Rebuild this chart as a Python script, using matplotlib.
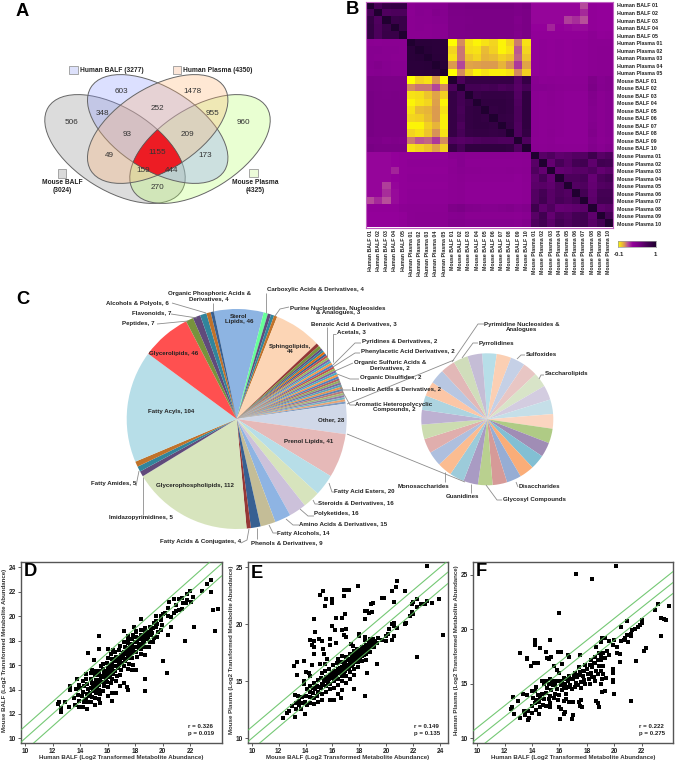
import matplotlib
matplotlib.use("Agg")
import matplotlib.pyplot as plt
import numpy as np
from matplotlib.colors import LinearSegmentedColormap
from matplotlib.patches import Ellipse, Polygon, Rectangle

plt.rcParams["font.family"] = ["Liberation Sans", "DejaVu Sans"]

W, H = 675, 764

# ---- panel A
venn_counts = ["603", "1478", "506", "348", "252", "955", "960", "93", "209",
               "49", "1155", "173", "159", "444", "270"]
venn_pos = [(365, 275), (579, 275), (215, 368), (308, 340), (472, 324), (636, 340),
            (729, 368), (382, 402), (562, 402), (328, 467), (472, 456), (617, 467),
            (429, 513), (516, 513), (472, 563)]

# ---- panel B
sample_names = ["Human BALF %02d" % i for i in range(1, 6)] + \
               ["Human Plasma %02d" % i for i in range(1, 6)] + \
               ["Mouse BALF %02d" % i for i in range(1, 11)] + \
               ["Mouse Plasma %02d" % i for i in range(1, 11)]

hb_hb = [[1.0, .74, .85, .86, .86], [.74, 1.0, .70, .72, .72], [.85, .70, 1.0, .82, .84],
         [.86, .72, .82, 1.0, .84], [.86, .72, .84, .84, 1.0]]
hp_hp = [[1.0, .93, .93, .92, .92], [.93, 1.0, .94, .92, .92], [.93, .94, 1.0, .93, .93],
         [.92, .92, .93, 1.0, .94], [.92, .92, .93, .94, 1.0]]
mb_mb = [[1.0, .72, .85, .85, .85, .85, .85, .85, .68, .85],
         [.72, 1.0, .76, .76, .74, .76, .72, .74, .66, .74],
         [.85, .76, 1.0, .84, .86, .86, .86, .85, .68, .88],
         [.85, .76, .84, 1.0, .88, .88, .88, .86, .70, .88],
         [.85, .74, .86, .88, 1.0, .86, .88, .86, .72, .88],
         [.85, .76, .86, .88, .86, 1.0, .86, .85, .72, .88],
         [.85, .72, .86, .88, .88, .86, 1.0, .86, .70, .88],
         [.85, .74, .85, .86, .86, .85, .86, 1.0, .70, .86],
         [.68, .66, .68, .70, .72, .72, .70, .70, 1.0, .70],
         [.85, .74, .88, .88, .88, .88, .88, .86, .70, 1.0]]
mp_mp = [[1.0, .66, .70, .62, .64, .68, .68, .80, .66, .70],
         [.66, 1.0, .60, .74, .66, .76, .78, .62, .78, .76],
         [.70, .60, 1.0, .60, .62, .66, .66, .70, .60, .64],
         [.62, .74, .60, 1.0, .72, .72, .74, .58, .72, .76],
         [.64, .66, .62, .72, 1.0, .68, .70, .60, .68, .70],
         [.68, .76, .66, .72, .68, 1.0, .76, .62, .76, .76],
         [.68, .78, .66, .74, .70, .76, 1.0, .64, .78, .78],
         [.80, .62, .70, .58, .60, .62, .64, 1.0, .62, .66],
         [.66, .78, .60, .72, .68, .76, .78, .62, 1.0, .76],
         [.70, .76, .64, .76, .70, .76, .78, .66, .76, 1.0]]
hb_hp = [[.38, .40, .40, .41, .40], [.37, .40, .39, .43, .41], [.38, .39, .39, .40, .40],
         [.38, .39, .38, .39, .39], [.38, .38, .38, .39, .39]]
hb_mb = [[.48, .48, .50, .50, .50, .50, .50, .50, .46, .50],
         [.47, .47, .48, .48, .48, .48, .48, .48, .46, .48],
         [.46, .46, .47, .48, .48, .48, .48, .48, .44, .48],
         [.46, .46, .48, .48, .48, .48, .48, .48, .45, .48],
         [.46, .46, .47, .48, .48, .48, .48, .48, .44, .48]]
hb_mp = [[.31, .31, .31, .31, .31, .31, .19, .33, .32, .32],
         [.31, .31, .31, .31, .31, .31, .25, .33, .32, .32],
         [.31, .31, .31, .31, .21, .24, .18, .33, .32, .32],
         [.32, .32, .26, .32, .31, .30, .30, .33, .32, .32],
         [.33, .33, .33, .33, .33, .33, .33, .36, .33, .34]]
hp_mb = [[-.10, .10, -.05, -.08, -.05, -.03, -.08, -.03, .12, -.05],
         [-.03, .13, -.04, -.05, .02, -.02, -.08, -.05, .17, -.03],
         [-.05, .13, .00, -.03, .03, .02, -.02, .00, .15, .00],
         [.08, .20, .06, .07, .08, .08, .03, .09, .22, .06],
         [-.10, .10, -.02, -.08, -.05, -.07, -.07, -.05, .10, -.02]]
hp_mp = [[.33, .35, .34, .35, .34, .35, .35, .37, .37, .37],
         [.33, .35, .34, .35, .34, .35, .35, .37, .38, .38],
         [.33, .35, .34, .35, .34, .35, .35, .37, .38, .38],
         [.33, .35, .34, .35, .34, .35, .35, .37, .38, .38],
         [.33, .35, .34, .35, .34, .35, .35, .37, .38, .38]]
mb_mp = [[.39, .36, .37, .36, .36, .36, .36, .45, .40, .42],
         [.40, .40, .39, .38, .37, .37, .37, .47, .41, .42],
         [.38, .36, .38, .36, .35, .35, .35, .43, .38, .40],
         [.38, .36, .38, .36, .35, .35, .35, .42, .38, .40],
         [.38, .36, .37, .36, .35, .35, .35, .41, .38, .40],
         [.38, .36, .37, .36, .35, .35, .35, .41, .38, .40],
         [.38, .36, .37, .36, .35, .35, .35, .42, .38, .40],
         [.38, .36, .38, .36, .35, .35, .35, .44, .38, .40],
         [.37, .36, .37, .35, .35, .35, .35, .41, .37, .39],
         [.38, .37, .38, .37, .36, .36, .36, .43, .39, .42]]

# ---- panel C
main_labels_inside = [("Sterol\nLipids, 46", 239, 319), ("Sphingolipids,\n44", 290, 349),
                      ("Glycerolipids, 46", 174, 353), ("Fatty Acyls, 104", 171, 411),
                      ("Glycerophospholipids, 112", 195, 485), ("Other, 28", 331, 420),
                      ("Prenol Lipids, 41", 309, 441)]
main_counts = [46, 4, 3, 3, 3, 44, 3, 3] + [2] * 28 + \
              [28, 41, 20, 16, 16, 15, 14, 9, 4, 112, 5, 5, 5, 104, 46, 7, 7, 6, 4, 3]
main_colors = ["#8DB4E2", "#66FF99", "#604A7B", "#31859C", "#C0722A", "#FCD5B5",
               "#953735", "#77933C", "#604A7B", "#31859C", "#E46C0A", "#376092",
               "#C0504D", "#9BBB59", "#8064A2", "#4BACC6", "#F79646", "#4F81BD",
               "#C0504D", "#9BBB59", "#8064A2", "#4BACC6", "#F79646", "#4F81BD",
               "#B65F5D", "#93AF5F", "#7F689B", "#58A6BC", "#E8934F", "#5A83B5",
               "#BC7A78", "#A0B878", "#8F7DA8", "#74B3C4", "#E9A473", "#7E9CC2",
               "#D0D8E8", "#E6B9B8", "#B7DEE8", "#D7E4BD", "#CCC1DA", "#8EB4E3",
               "#C4BD97", "#376092", "#953735", "#D7E4BD", "#604A7B", "#31859C",
               "#C0722A", "#B7DEE8", "#FF5050", "#77933C", "#604A7B", "#31859C",
               "#C0722A", "#376092"]
other_counts = [1] * 28
other_colors = ["#B7DEE8", "#FBCFB3", "#C5D0E6", "#E8C6C4", "#D8E4C8", "#D3CCE0",
                "#C5DFE8", "#FBD5C0", "#AFCB85", "#A08DB5", "#82BFD3", "#FAAD78",
                "#96ADD4", "#D69A98", "#B9D08F", "#A99BC3", "#9CCBDA", "#FBBC90",
                "#AEBFDE", "#E0AEAD", "#CCDCB0", "#BDB1D2", "#ADD4E0", "#FCC6A6",
                "#B8C7E2", "#E2B8B7", "#D0DDBB", "#C5BDD6"]

# text, x, y, horizontal anchor
pie_labels = [
    ("Organic Phosphoric Acids &\nDerivatives, 4", 209, 296, "center"),
    ("Alcohols & Polyols, 6", 169, 303, "right"),
    ("Flavonoids, 7", 171, 313, "right"),
    ("Peptides, 7", 155, 323, "right"),
    ("Fatty Amides, 5", 136, 483, "right"),
    ("Imidazopyrimidines, 5", 141, 517, "center"),
    ("Fatty Acids & Conjugates, 4", 241, 541, "right"),
    ("Phenols & Derivatives, 9", 251, 543, "left"),
    ("Fatty Alcohols, 14", 277, 533, "left"),
    ("Amino Acids & Derivatives, 15", 299, 524, "left"),
    ("Polyketides, 16", 314, 514, "left"),
    ("Steroids & Derivatives, 16", 318, 503, "left"),
    ("Fatty Acid Esters, 20", 334, 491, "left"),
    ("Carboxylic Acids & Derivatives, 4", 267, 290, "left"),
    ("Purine Nucleotides, Nucleosides\n& Analogues, 3", 338, 310, "center"),
    ("Benzoic Acid & Derivatives, 3", 311, 324, "left"),
    ("Acetals, 3", 337, 332, "left"),
    ("Pyridines & Derivatives, 2", 362, 342, "left"),
    ("Phenylacetic Acid Derivatives, 2", 361, 352, "left"),
    ("Organic Sulfuric Acids &\nDerivatives, 2", 390, 365, "center"),
    ("Organic Disulfides, 2", 360, 378, "left"),
    ("Linoelic Acids & Derivatives, 2", 352, 389, "left"),
    ("Aromatic Heteropolycyclic\nCompounds, 2", 394, 407, "center"),
    ("Pyrimidine Nucleosides &\nAnalogues", 522, 327, "center"),
    ("Pyrrolidines", 479, 343, "left"),
    ("Sulfoxides", 526, 354, "left"),
    ("Saccharolipids", 545, 373, "left"),
    ("Monosaccharides", 398, 487, "left"),
    ("Guanidines", 446, 497, "left"),
    ("Disaccharides", 519, 486, "left"),
    ("Glycosyl Compounds", 503, 499, "left"),
]

leaders = [
    [(172, 303), (206, 313)], [(213, 303), (213, 312)], [(171, 314), (197, 318)],
    [(157, 324), (188, 321)], [(266, 293), (266, 313)],
    [(289, 307), (280, 309), (275, 316)], [(327, 327), (327, 357)],
    [(336, 334), (333, 334), (333, 362)], [(361, 343), (355, 343), (333, 365)],
    [(360, 353), (355, 353), (333, 367)], [(353, 363), (335, 371)],
    [(359, 379), (350, 379), (337, 374)], [(351, 390), (343, 390), (338, 380)],
    [(355, 405), (350, 405), (340, 387)],
    [(136, 486), (139, 471)], [(143, 515), (143, 477)],
    [(241, 543), (247, 540), (249, 529)], [(257, 539), (257, 528)],
    [(269, 525), (273, 533), (277, 533)], [(286, 519), (293, 525), (299, 525)],
    [(300, 509), (308, 516), (314, 516)], [(313, 500), (315, 504), (318, 504)],
    [(329, 483), (332, 492), (334, 492)],
    [(347, 404), (454, 360)], [(347, 434), (465, 482)],
    [(484, 324), (478, 324), (452, 362)], [(478, 343), (473, 343), (462, 358)],
    [(525, 355), (521, 355), (517, 359)], [(544, 375), (541, 375), (539, 379)],
    [(445, 482), (445, 472)], [(471, 493), (471, 484)],
    [(518, 487), (516, 482)], [(502, 500), (497, 500), (486, 485)],
]

# ---- panels D, E, F
d_points = [
    (23.5, 23.0), (23.2, 22.6), (23.5, 22.0), (22.9, 22.1), (22.0, 22.1), (21.8, 21.8), (22.2, 21.6),
    (21.4, 21.5), (21.2, 21.4), (21.8, 21.3), (22.1, 21.2), (21.5, 21.1), (21.7, 21.1), (20.8, 21.4),
    (20.5, 21.15), (20.4, 20.7), (21.0, 20.9), (21.4, 20.6), (21.2, 20.5), (21.0, 20.4), (20.8, 20.3),
    (20.4, 20.0), (20.2, 20.3), (20.0, 20.2), (19.5, 20.0), (20.6, 19.95), (19.5, 19.6), (18.4, 19.75),
    (23.7, 20.5), (24.0, 20.55), (23.8, 18.75), (22.3, 19.15), (21.6, 18.0), (20.6, 19.1), (20.4, 18.5),
    (20.0, 16.3), (20.3, 15.35), (18.7, 14.85), (18.7, 13.85), (15.4, 18.35), (14.6, 16.95), (15.0, 16.45),
    (15.4, 17.3), (16.0, 17.3), (16.4, 17.25), (17.2, 18.8), (17.9, 19.1), (18.1, 18.8), (17.5, 18.4),
    (13.8, 14.9), (12.6, 12.15), (12.5, 13.0), (12.4, 12.85), (12.9, 13.0), (12.6, 12.5), (13.2, 12.6),
    (13.3, 14.3), (13.3, 14.0), (13.6, 12.7), (13.55, 13.3), (13.7, 14.05), (13.9, 12.55), (13.95, 13.05),
    (13.85, 13.55), (14.0, 14.15), (13.95, 14.4), (14.2, 12.6), (14.25, 13.0), (14.15, 13.45), (14.2, 13.8),
    (14.3, 14.3), (14.2, 14.7), (14.5, 12.4), (14.55, 12.95), (14.45, 13.25), (14.5, 13.6), (14.6, 14.05),
    (14.5, 14.45), (14.45, 14.85), (14.4, 15.25), (14.8, 13.0), (14.85, 13.4), (14.75, 13.75), (14.8, 14.15),
    (14.9, 14.5), (14.8, 14.9), (14.8, 15.35), (14.9, 15.6), (15.1, 12.7), (15.05, 13.3), (15.15, 13.7),
    (15.1, 14.05), (15.05, 14.45), (15.15, 14.8), (15.1, 15.2), (15.1, 15.55), (15.45, 12.9), (15.4, 13.25),
    (15.45, 13.6), (15.35, 14.0), (15.4, 14.4), (15.45, 14.8), (15.35, 15.15), (15.4, 15.5), (15.5, 15.9),
    (15.7, 13.9), (15.75, 14.25), (15.65, 14.6), (15.7, 15.0), (15.75, 15.35), (15.7, 15.7), (15.65, 16.1),
    (16.0, 13.45), (16.05, 14.2), (15.95, 14.65), (16.0, 15.0), (16.1, 15.4), (16.0, 15.8), (15.95, 16.2),
    (16.05, 16.55), (16.3, 13.1), (16.35, 13.7), (16.25, 14.5), (16.3, 14.9), (16.4, 15.3), (16.3, 15.7),
    (16.3, 16.1), (16.35, 16.5), (16.25, 16.9), (16.6, 13.7), (16.6, 14.7), (16.65, 15.1), (16.55, 15.5),
    (16.6, 15.9), (16.65, 16.3), (16.6, 16.7), (16.55, 17.05), (16.9, 14.3), (16.9, 15.2), (16.95, 15.6),
    (16.85, 16.0), (16.9, 16.4), (16.95, 16.8), (16.85, 17.2), (16.9, 17.6), (17.2, 14.5), (17.4, 14.2),
    (17.5, 13.95), (17.2, 15.9), (17.25, 16.3), (17.15, 16.7), (17.2, 17.1), (17.25, 17.5), (17.2, 17.9),
    (17.5, 15.7), (17.55, 16.1), (17.45, 16.6), (17.5, 17.0), (17.55, 17.4), (17.5, 17.8), (17.45, 18.15),
    (17.8, 15.6), (17.85, 16.0), (17.75, 16.6), (17.8, 16.95), (17.85, 17.3), (17.8, 17.7), (17.75, 18.1),
    (17.85, 18.5), (18.1, 15.6), (18.15, 16.7), (18.05, 17.1), (18.1, 17.5), (18.15, 17.9), (18.1, 18.3),
    (18.05, 18.7), (18.4, 16.9), (18.45, 17.3), (18.35, 17.7), (18.4, 18.1), (18.45, 18.5), (18.4, 18.9),
    (18.7, 16.8), (18.75, 17.5), (18.65, 17.9), (18.7, 18.3), (18.75, 18.7), (18.7, 19.0), (19.0, 17.5),
    (19.05, 17.9), (18.95, 18.3), (19.0, 18.7), (19.05, 19.1), (19.3, 17.9), (19.35, 18.2), (19.25, 18.6),
    (19.3, 19.0), (19.35, 19.45), (19.6, 18.3), (19.65, 18.7), (19.55, 19.1), (19.6, 19.4), (19.9, 18.9),
    (19.95, 19.3), (19.85, 19.7), (19.9, 20.05),
    (14.35, 13.1), (14.65, 13.45), (14.95, 13.85), (14.95, 14.25), (15.25, 14.2), (15.25, 14.65), (15.55, 14.6),
    (15.55, 15.1), (15.85, 14.85), (15.85, 15.2), (15.85, 15.55), (16.15, 15.2), (16.15, 15.6), (16.2, 16.0),
    (16.45, 15.5), (16.45, 15.95), (16.5, 16.35), (16.75, 15.8), (16.8, 16.2), (16.75, 16.6), (17.05, 16.2),
    (17.05, 16.6), (17.1, 17.0), (17.35, 16.5), (17.35, 16.9), (17.4, 17.3), (17.65, 16.8), (17.7, 17.2),
    (17.65, 17.55), (17.95, 17.1), (17.95, 17.5), (18.0, 17.9), (18.25, 17.4), (18.25, 17.75), (18.3, 18.2),
    (18.55, 17.6), (18.55, 18.0), (18.6, 18.4), (18.85, 18.1), (18.85, 18.5), (19.15, 18.45), (19.15, 18.85),
]

e_points = [
    (23.0, 25.1), (20.8, 23.8), (20.7, 23.3), (20.4, 22.9), (21.4, 22.9), (17.9, 23.4), (17.0, 23.0),
    (16.85, 23.05), (17.2, 23.0), (16.85, 22.5), (15.3, 22.95), (15.1, 22.6), (15.5, 22.25), (16.0, 22.25),
    (16.0, 21.85), (15.45, 21.6), (19.7, 22.3), (19.85, 22.35), (20.6, 22.0), (22.0, 22.0), (22.3, 22.2),
    (21.9, 21.8), (22.6, 21.8), (22.9, 21.8), (23.0, 22.05), (23.4, 21.85), (23.9, 22.2), (22.3, 21.5),
    (24.2, 19.05), (22.3, 17.15), (18.4, 13.7), (19.3, 16.5), (18.6, 15.7), (17.6, 14.35), (18.9, 21.8),
    (19.05, 21.9), (18.6, 21.2), (18.7, 21.0), (18.4, 21.2), (18.95, 21.1), (18.4, 20.5), (16.95, 20.9),
    (16.7, 20.6), (16.3, 20.6), (14.6, 20.5), (15.95, 19.85), (16.2, 19.5), (16.7, 19.5), (17.0, 19.6),
    (16.85, 19.1), (17.0, 18.9), (14.7, 19.3), (15.85, 18.7), (14.35, 18.6), (14.6, 18.5), (15.0, 18.75),
    (15.2, 18.5), (14.45, 18.2), (14.6, 18.0), (15.3, 17.85), (15.85, 18.2), (16.3, 18.4), (17.95, 19.2),
    (17.95, 18.95), (18.4, 18.9), (14.6, 17.4), (15.4, 17.4), (15.6, 17.0), (13.15, 16.35), (13.35, 16.7),
    (13.9, 16.75), (14.45, 16.45), (15.1, 16.5), (15.45, 16.5), (13.4, 15.6), (13.9, 14.8), (13.85, 15.0),
    (14.0, 15.8), (14.25, 15.7), (14.35, 15.5), (13.45, 13.7), (13.2, 13.8), (12.35, 11.8), (12.6, 12.2),
    (12.8, 12.4), (13.2, 11.9), (13.95, 12.15), (13.0, 12.8), (21.4, 20.05), (21.8, 20.7), (22.0, 20.9),
    (21.95, 21.1), (21.5, 20.1), (20.6, 20.1), (20.4, 20.0), (20.2, 19.6), (20.6, 19.9), (20.8, 19.7),
    (20.0, 18.5), (20.4, 18.6), (20.6, 19.0), (17.4, 18.25), (17.5, 18.1), (19.95, 19.0), (20.1, 19.2),
    (13.3, 12.6), (13.3, 13.1), (13.55, 12.9), (13.5, 13.3), (13.7, 12.6), (13.8, 13.1), (13.75, 13.6),
    (13.95, 13.2), (14.0, 13.7), (14.1, 14.3), (14.1, 12.9), (14.35, 13.1), (14.3, 13.6), (14.3, 14.1),
    (14.3, 14.6), (14.6, 13.0), (14.6, 13.5), (14.55, 14.0), (14.55, 14.4), (14.6, 14.9), (14.9, 13.2),
    (14.85, 13.7), (14.9, 14.1), (14.85, 14.6), (14.9, 15.1), (15.2, 13.4), (15.2, 13.9), (15.15, 14.4),
    (15.2, 14.8), (15.15, 15.3), (15.2, 15.7), (15.5, 14.1), (15.5, 14.6), (15.45, 15.0), (15.5, 15.4),
    (15.45, 15.9), (15.8, 13.4), (15.8, 14.3), (15.8, 14.8), (15.75, 15.2), (15.8, 15.6), (15.75, 16.1),
    (16.1, 13.35), (16.1, 14.4), (16.1, 15.0), (16.05, 15.5), (16.1, 15.9), (16.05, 16.4), (16.4, 13.9),
    (16.4, 14.7), (16.4, 15.2), (16.35, 15.7), (16.4, 16.1), (16.35, 16.6), (16.4, 17.0), (16.65, 13.5),
    (16.7, 14.2), (16.7, 15.0), (16.7, 15.5), (16.65, 15.9), (16.7, 16.3), (16.65, 16.7), (16.7, 17.2),
    (17.0, 14.9), (17.0, 15.5), (16.95, 15.9), (17.0, 16.3), (16.95, 16.7), (17.0, 17.1), (17.3, 15.2),
    (17.3, 15.8), (17.25, 16.2), (17.3, 16.6), (17.25, 17.0), (17.3, 17.4), (17.6, 15.6), (17.6, 16.1),
    (17.55, 16.5), (17.6, 16.9), (17.55, 17.3), (17.6, 17.7), (17.9, 16.3), (17.9, 16.7), (17.85, 17.1),
    (17.9, 17.5), (17.85, 17.85), (18.2, 16.8), (18.2, 17.2), (18.15, 17.6), (18.2, 18.0), (18.5, 16.9),
    (18.5, 17.4), (18.45, 17.8), (18.5, 18.2), (18.45, 18.6), (18.8, 17.6), (18.8, 18.0), (18.75, 18.4),
    (18.8, 18.7), (19.1, 18.0), (19.1, 18.3), (19.05, 18.7), (19.35, 18.4), (19.4, 18.8), (19.7, 18.6),
    (14.7, 14.3), (15.0, 14.5), (15.3, 14.7), (15.35, 15.1), (15.65, 14.9), (15.65, 15.3), (15.95, 15.3),
    (15.95, 15.7), (16.25, 15.4), (16.25, 15.85), (16.55, 15.7), (16.55, 16.15), (16.85, 15.75), (16.85, 16.15),
    (16.85, 16.55), (17.15, 16.1), (17.15, 16.45), (17.15, 16.85), (17.45, 16.35), (17.45, 16.75), (17.45, 17.15),
    (17.75, 16.7), (17.75, 17.05), (17.75, 17.45), (18.05, 17.05), (18.05, 17.4), (18.05, 17.75), (18.35, 17.35),
    (18.35, 17.65), (18.35, 18.0), (18.65, 17.7), (18.65, 18.05), (18.95, 18.15), (18.95, 18.5), (19.2, 18.5),
]

f_points = [
    (20.1, 25.8), (17.2, 25.05), (18.4, 24.65), (16.0, 21.5), (23.2, 22.3), (24.0, 22.15), (23.0, 21.8),
    (23.4, 21.05), (23.6, 20.95), (23.8, 20.85), (20.9, 20.8), (20.5, 20.25), (22.0, 20.85), (22.0, 20.6),
    (21.9, 20.4), (21.7, 20.2), (21.5, 20.0), (21.3, 19.9), (21.2, 19.6), (21.2, 19.35), (20.9, 19.5),
    (20.8, 19.2), (20.7, 19.0), (21.0, 18.8), (20.5, 18.9), (22.3, 18.3), (22.2, 18.0), (23.4, 19.4),
    (21.6, 17.05), (21.2, 13.4), (20.0, 14.1), (19.3, 14.35), (19.1, 14.25), (18.7, 13.4), (18.8, 13.2),
    (18.9, 12.9), (19.0, 15.0), (19.9, 15.2), (19.9, 15.35), (19.9, 16.0), (19.9, 16.4), (17.0, 12.1),
    (16.95, 11.8), (16.05, 11.8), (16.3, 12.2), (16.4, 12.4), (16.1, 12.7), (16.7, 13.3), (17.0, 13.3),
    (17.4, 13.3), (17.6, 13.5), (17.5, 13.0), (17.65, 12.9), (14.2, 19.05), (14.2, 18.8), (14.2, 18.6),
    (15.3, 19.05), (14.6, 18.25), (15.9, 17.95), (16.1, 17.95), (15.0, 17.9), (13.1, 17.85), (13.6, 17.35),
    (13.65, 17.3), (14.15, 16.95), (14.4, 16.9), (13.95, 16.65), (15.1, 17.4), (15.4, 17.5), (15.2, 17.3),
    (16.7, 17.5), (16.65, 17.65), (17.5, 17.6), (15.6, 16.6), (16.2, 16.8), (13.3, 14.1), (13.6, 14.0),
    (12.6, 13.75), (12.95, 13.4), (12.5, 12.9), (12.45, 12.7), (12.7, 12.2), (13.1, 11.9), (13.5, 12.1),
    (13.7, 12.55), (13.4, 12.5), (13.7, 11.7), (13.8, 11.9), (14.0, 12.3), (14.2, 13.2), (14.0, 14.3),
    (14.2, 14.3), (14.3, 14.7), (15.0, 15.3), (15.3, 15.4), (15.8, 16.3), (16.0, 16.0), (19.1, 19.2),
    (19.3, 19.2), (19.6, 18.9), (19.0, 18.8), (18.7, 18.4), (20.0, 19.0), (19.9, 18.6), (20.2, 18.4),
    (20.2, 17.8), (20.4, 17.7), (20.4, 17.0), (18.3, 17.2), (19.5, 18.0), (19.2, 17.8), (19.6, 17.6),
    (19.3, 17.4), (18.9, 17.8), (19.0, 17.2), (18.6, 17.5), (18.6, 16.9), (18.9, 16.6), (19.2, 16.6),
    (19.0, 16.2), (18.7, 16.2), (18.4, 16.5), (18.3, 16.0), (18.4, 15.6), (18.8, 15.9), (19.2, 15.9),
    (19.1, 15.4), (17.9, 16.7), (17.8, 16.2), (17.7, 15.7), (18.1, 15.9), (17.5, 16.1), (17.4, 16.5),
    (17.1, 16.0), (17.3, 15.6), (17.0, 15.4), (17.6, 15.2), (17.2, 15.1), (17.6, 14.6), (17.1, 14.7),
    (16.7, 15.7), (16.6, 15.3), (16.8, 14.9), (16.9, 14.5), (16.5, 14.6), (16.4, 15.0), (16.3, 15.5),
    (16.0, 15.3), (16.1, 14.9), (16.2, 14.4), (16.5, 14.1), (16.0, 14.0), (15.7, 14.9), (15.8, 14.5),
    (15.6, 15.3), (15.5, 14.9), (15.4, 14.4), (15.7, 14.1), (15.6, 13.7), (15.9, 13.5), (15.3, 13.9),
    (15.1, 14.6), (15.0, 14.2), (15.2, 13.6), (15.3, 13.2), (15.0, 13.0), (14.9, 13.6), (14.7, 14.1),
    (14.6, 13.7), (14.5, 13.3), (14.8, 13.1), (14.6, 12.9), (14.4, 14.0), (14.3, 13.5), (14.1, 13.7),
    (14.3, 12.6), (14.0, 13.0), (14.5, 12.2), (15.3, 12.9), (14.9, 15.0), (14.7, 15.3), (16.5, 13.6),
    (17.9, 15.0), (18.2, 15.0), (18.6, 15.3), (19.4, 15.5), (16.3, 13.4), (16.0, 12.9),
    (15.2, 14.95), (15.45, 15.05), (15.8, 15.25), (16.2, 15.25), (16.45, 15.45), (16.75, 15.4), (17.05, 15.7),
    (17.4, 15.85), (17.7, 16.15), (18.0, 16.35), (18.2, 16.7), (18.5, 16.95), (18.8, 17.2), (19.05, 17.55),
    (16.3, 14.7), (16.65, 14.7), (17.35, 14.85), (17.8, 15.35), (18.15, 15.45), (18.55, 15.65),
]

tick_d = {"x": range(10, 23, 2), "y": range(10, 25, 2)}
tick_e = {"x": range(10, 25, 2), "y": range(10, 26, 5)}
tick_f = {"x": range(10, 23, 2), "y": range(10, 26, 5)}

fig = plt.figure(figsize=(W / 100, H / 100), dpi=100)


def px_axes(x0, y0, x1, y1):
    return fig.add_axes([x0 / W, 1 - y1 / H, (x1 - x0) / W, (y1 - y0) / H])


def draw_pie(cx, cy, r, counts, colors, start):
    ax = px_axes(cx - r, cy - r, cx + r, cy + r)
    ax.pie(counts, colors=colors, startangle=start, counterclock=False, radius=1,
           wedgeprops={"linewidth": 0})
    ax.set_xlim(-1, 1)
    ax.set_ylim(-1, 1)
    ax.axis("off")


def draw_scatter(box, points, lims, ticks, xlabel, ylabel, r, p, letter, letter_pos):
    ax = px_axes(*box)
    pts = np.array(points)
    xs = np.array(lims[:2])
    for off in (-1, 0, 1):
        ax.plot(xs, xs + off, color="#5cbf5c", lw=0.8, alpha=0.85, zorder=3)
    ax.scatter(pts[:, 0], pts[:, 1], marker="s", s=11.5, color="black", linewidths=0, zorder=2)
    ax.set_xlim(lims[0], lims[1])
    ax.set_ylim(lims[2], lims[3])
    ax.set_xticks(list(ticks["x"]))
    ax.set_yticks(list(ticks["y"]))
    ax.tick_params(length=2, width=0.6, labelsize=4.7, pad=1.5, color="#444444")
    for lab in ax.get_xticklabels() + ax.get_yticklabels():
        lab.set_fontweight("bold")
        lab.set_color("#222222")
    for s in ax.spines.values():
        s.set_linewidth(1.0)
        s.set_color("#555555")
    page.text(box[0] + 100, 758, xlabel, ha="center", va="center", fontsize=4.4,
              fontweight="bold", color="#333333")
    page.text(box[0] - 16, 650, ylabel, ha="center", va="center", rotation=90, fontsize=4.4,
              fontweight="bold", color="#333333")
    page.text(box[2] - 34, 730, "r = %s\np = %s" % (r, p), ha="left", va="center",
              fontsize=4.4, fontweight="bold", color="#222222", linespacing=1.25)
    page.text(letter_pos[0], letter_pos[1], letter, ha="left", va="center", fontsize=13.2,
              fontweight="bold", color="black", zorder=5)


# whole page overlay in picture pixels, for text and leader lines
page = fig.add_axes([0, 0, 1, 1], zorder=10)
page.set_xlim(0, W)
page.set_ylim(H, 0)
page.axis("off")
page.patch.set_alpha(0)

# panel A
venn_shapes = [((115, 149), -32, (0.55, 0.55, 0.55)), ((200, 149), 32, (0.72, 1.0, 0.42)),
               ((157.7, 129), -32, (0.55, 0.6, 1.0)), ((157.7, 129), 32, (1.0, 0.7, 0.45))]
A_AX, B_AX = 78.7, 41.2
for centre, angle, col in venn_shapes:
    # y runs downward on the page, so the sign of the angle follows the picture
    page.add_patch(Ellipse(centre, 2 * A_AX, 2 * B_AX, angle=-angle, facecolor=col + (0.3,),
                           edgecolor="#666666", lw=0.7))

# red centre: the part that lies inside all four ellipses
angles = np.linspace(0, 2 * np.pi, 361)
cx0, cy0 = 157.7, 152.0
radii = []
for t in angles:
    best = 1e9
    for centre, angle, col in venn_shapes:
        a = np.deg2rad(-angle)
        dx, dy = np.cos(t), np.sin(t)
        ux = (dx * np.cos(a) + dy * np.sin(a)) / A_AX
        uy = (-dx * np.sin(a) + dy * np.cos(a)) / B_AX
        ox = ((cx0 - centre[0]) * np.cos(a) + (cy0 - centre[1]) * np.sin(a)) / A_AX
        oy = (-(cx0 - centre[0]) * np.sin(a) + (cy0 - centre[1]) * np.cos(a)) / B_AX
        qa, qb, qc = ux ** 2 + uy ** 2, 2 * (ox * ux + oy * uy), ox ** 2 + oy ** 2 - 1
        best = min(best, (-qb + np.sqrt(qb ** 2 - 4 * qa * qc)) / (2 * qa))
    radii.append(best)
radii = np.array(radii)
page.add_patch(Polygon(np.c_[cx0 + radii * np.cos(angles), cy0 + radii * np.sin(angles)],
                       facecolor="#ED1C24", edgecolor="#555555", lw=0.5))

for txt, (zx, zy) in zip(venn_counts, venn_pos):
    page.text(zx / 3, zy / 3, txt, ha="center", va="center", fontsize=5.9, color="#333333")

for x, y, col in [(69, 65.7, "#DDE1FB"), (172.7, 65.7, "#FDE6D8"), (57.5, 169, "#DADADA"), (249, 168.5, "#ECFBD8")]:
    page.add_patch(Rectangle((x, y), 8.5, 8.5, facecolor=col, edgecolor="#999999", lw=0.6))
page.text(79.5, 70, "Human BALF (3277)", ha="left", va="center", fontsize=4.75, fontweight="bold", color="#222222")
page.text(182.7, 70, "Human Plasma (4350)", ha="left", va="center", fontsize=4.75, fontweight="bold", color="#222222")
page.text(62.5, 186, "Mouse BALF\n(3024)", ha="center", va="center", fontsize=4.75, fontweight="bold", color="#222222")
page.text(255, 186.5, "Mouse Plasma\n(4325)", ha="center", va="center", fontsize=4.75, fontweight="bold", color="#222222")
page.text(16, 12, "A", ha="left", va="center", fontsize=13.2, fontweight="bold")

# panel B
matrix = np.block([[np.array(hb_hb), np.array(hb_hp), np.array(hb_mb), np.array(hb_mp)],
                   [np.array(hb_hp).T, np.array(hp_hp), np.array(hp_mb), np.array(hp_mp)],
                   [np.array(hb_mb).T, np.array(hp_mb).T, np.array(mb_mb), np.array(mb_mp)],
                   [np.array(hb_mp).T, np.array(hp_mp).T, np.array(mb_mp).T, np.array(mp_mp)]])
stops = [(-0.10, "#FFFF00"), (-0.02, "#F2CF24"), (0.08, "#DC9A50"), (0.18, "#B8509A"),
         (0.32, "#93009A"), (0.50, "#780084"), (0.75, "#460056"), (1.0, "#200030")]
heat_cmap = LinearSegmentedColormap.from_list("heat", [((v + 0.1) / 1.1, c) for v, c in stops])
ax_b = px_axes(366, 1.7, 612.7, 227.5)
ax_b.imshow(matrix, cmap=heat_cmap, vmin=-0.1, vmax=1, aspect="auto", interpolation="nearest")
ax_b.yaxis.tick_right()
ax_b.set_yticks(range(30))
ax_b.set_yticklabels(sample_names, fontsize=3.8, fontweight="bold", color="#222222")
ax_b.set_xticks(range(30))
ax_b.set_xticklabels(sample_names, fontsize=3.8, fontweight="bold", color="#222222", rotation=90)
ax_b.tick_params(axis="y", length=0, pad=3)
ax_b.tick_params(axis="x", length=0, pad=2)
for s in ax_b.spines.values():
    s.set_color("#C060C0")
    s.set_linewidth(0.8)

ax_cb = px_axes(618, 240.7, 656, 247)
ax_cb.imshow(np.linspace(-0.1, 1, 200)[None, :], cmap=heat_cmap, aspect="auto")
ax_cb.set_xticks([])
ax_cb.set_yticks([])
for s in ax_cb.spines.values():
    s.set_linewidth(0.5)
    s.set_color("#999999")
page.text(619, 254.5, "-0.1", ha="center", va="center", fontsize=4.3, fontweight="bold", color="#222222")
page.text(655, 254.5, "1", ha="center", va="center", fontsize=4.3, fontweight="bold", color="#222222")
page.text(346, 10, "B", ha="left", va="center", fontsize=13.2, fontweight="bold")

# panel C
draw_pie(236.7, 419, 110, main_counts, main_colors, 102)
draw_pie(487.3, 419.3, 66, other_counts, other_colors, 94.6)
for pts in leaders:
    xy = np.array(pts)
    page.plot(xy[:, 0], xy[:, 1], color="#8c8c8c", lw=0.6, zorder=1, solid_capstyle="butt")
for txt, x, y in main_labels_inside:
    page.text(x, y, txt, ha="center", va="center", fontsize=4.4, fontweight="bold",
              color="#222222", linespacing=1.1, multialignment="center")
for txt, x, y, anchor in pie_labels:
    page.text(x, y, txt, ha=anchor, va="center", fontsize=4.4, fontweight="bold",
              color="#222222", linespacing=1.1, multialignment="center", zorder=3)
page.text(16, 300, "C", ha="left", va="center", fontsize=13.2, fontweight="bold")

# panels D, E, F
draw_scatter((20.7, 561.7, 221.7, 742.7), d_points, (9.68, 24.3, 9.65, 24.46), tick_d,
             "Human BALF (Log2 Transformed Metabolite Abundance)",
             "Mouse BALF (Log2 Transformed Metabolite Abundance)", "0.326", "0.019", "D", (24, 572))
draw_scatter((247.7, 561.7, 447.7, 742.7), e_points, (9.7, 24.57, 9.62, 25.5), tick_e,
             "Mouse BALF (Log2 Transformed Metabolite Abundance)",
             "Mouse Plasma (Log2 Transformed Metabolite Abundance)", "0.149", "0.135", "E", (251, 573))
draw_scatter((472.7, 561.7, 672.7, 742.7), f_points, (9.66, 24.27, 9.6, 26.2), tick_f,
             "Human BALF (Log2 Transformed Metabolite Abundance)",
             "Human Plasma (Log2 Transformed Metabolite Abundance)", "0.222", "0.275", "F", (476, 571))

fig.savefig("out.png", dpi=100)
plt.close(fig)
